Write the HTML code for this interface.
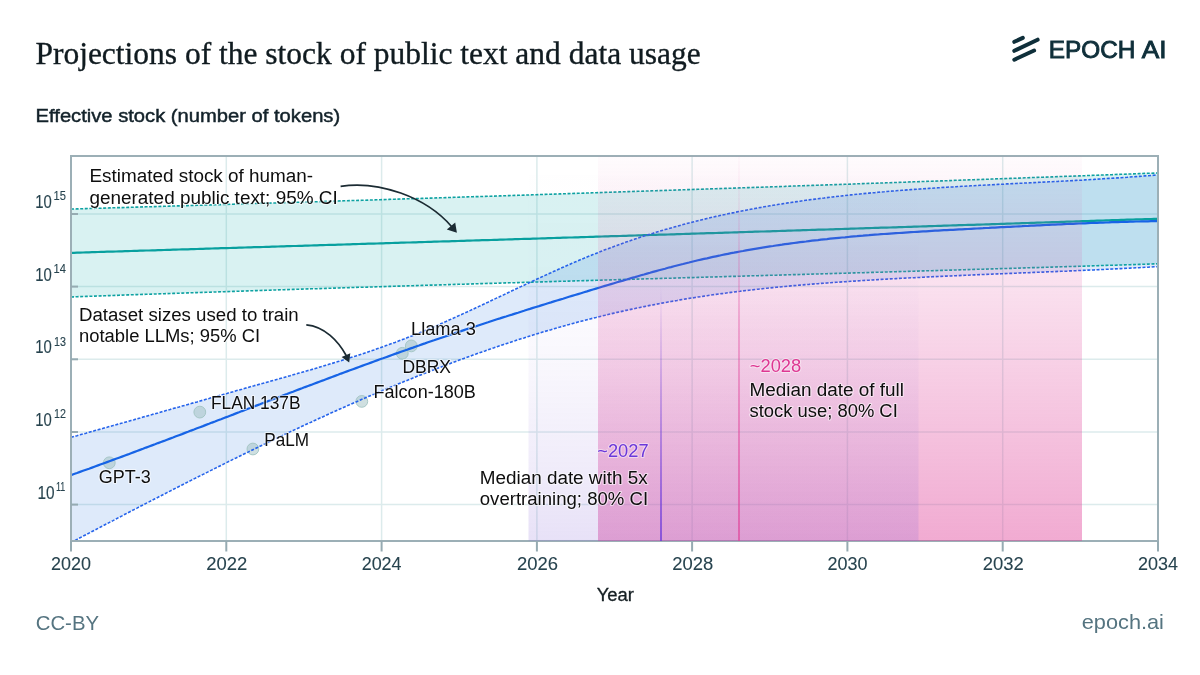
<!DOCTYPE html>
<html><head><meta charset="utf-8"><style>
html,body{margin:0;padding:0;background:#fff;}
body{width:1200px;height:675px;overflow:hidden;position:relative;font-family:"Liberation Sans",sans-serif;}
svg{position:absolute;left:0;top:0;will-change:transform;}
</style></head><body>
<svg width="1200" height="675" viewBox="0 0 1200 675">
<defs>
<linearGradient id="gPink" x1="0" y1="0" x2="0" y2="1">
<stop offset="0" stop-color="#e0449a" stop-opacity="0.02"/>
<stop offset="1" stop-color="#e0449a" stop-opacity="0.45"/>
</linearGradient>
<linearGradient id="gLav" x1="0" y1="0" x2="0" y2="1">
<stop offset="0" stop-color="#8a6ad8" stop-opacity="0"/>
<stop offset="0.3" stop-color="#8a6ad8" stop-opacity="0.012"/>
<stop offset="0.55" stop-color="#8a6ad8" stop-opacity="0.055"/>
<stop offset="0.8" stop-color="#8a6ad8" stop-opacity="0.125"/>
<stop offset="1" stop-color="#8a6ad8" stop-opacity="0.2"/>
</linearGradient>
<linearGradient id="gPinkLine" x1="0" y1="0" x2="0" y2="1">
<stop offset="0" stop-color="#e0449a" stop-opacity="0.03"/>
<stop offset="0.15" stop-color="#e0449a" stop-opacity="0.12"/>
<stop offset="0.43" stop-color="#e0449a" stop-opacity="0.48"/>
<stop offset="1" stop-color="#e0449a" stop-opacity="0.95"/>
</linearGradient>
<linearGradient id="gPurpLine" x1="0" y1="0" x2="0" y2="1">
<stop offset="0" stop-color="#6a38da" stop-opacity="0"/>
<stop offset="1" stop-color="#6a38da" stop-opacity="0.9"/>
</linearGradient>
<clipPath id="plot"><rect x="71" y="156" width="1087" height="385"/></clipPath>
</defs>

<g stroke="#0f2f3a" stroke-width="4" stroke-linecap="round" fill="none">
<line x1="1014.3" y1="41.8" x2="1022.8" y2="37.9"/>
<line x1="1014.3" y1="50.8" x2="1037.6" y2="39.7"/>
<line x1="1014.3" y1="59.7" x2="1034.1" y2="50.5"/>
</g>

<g stroke="#dcebec" stroke-width="1.5"><line x1="226.3" y1="156" x2="226.3" y2="541"/><line x1="381.6" y1="156" x2="381.6" y2="541"/><line x1="536.9" y1="156" x2="536.9" y2="541"/><line x1="692.1" y1="156" x2="692.1" y2="541"/><line x1="847.4" y1="156" x2="847.4" y2="541"/><line x1="1002.7" y1="156" x2="1002.7" y2="541"/><line x1="71" y1="504.6" x2="1158" y2="504.6"/><line x1="71" y1="432.0" x2="1158" y2="432.0"/><line x1="71" y1="359.3" x2="1158" y2="359.3"/><line x1="71" y1="286.6" x2="1158" y2="286.6"/><line x1="71" y1="214.0" x2="1158" y2="214.0"/></g>

<g clip-path="url(#plot)">
<path d="M71.0,209.0L74.0,209.0L77.0,208.9L80.0,208.8L83.0,208.7L86.0,208.6L89.0,208.5L92.0,208.4L95.0,208.3L98.0,208.3L101.0,208.2L104.0,208.1L107.0,208.0L110.0,207.9L113.0,207.8L116.0,207.7L119.0,207.6L122.0,207.6L125.0,207.5L128.0,207.4L131.0,207.3L134.0,207.2L137.0,207.1L140.0,207.0L143.0,206.9L146.0,206.8L149.0,206.8L152.0,206.7L155.0,206.6L158.0,206.5L161.0,206.4L164.0,206.3L167.0,206.2L170.0,206.1L173.0,206.0L176.0,205.9L179.0,205.9L182.0,205.8L185.0,205.7L188.0,205.6L191.0,205.5L194.0,205.4L197.0,205.3L200.0,205.2L203.0,205.1L206.0,205.0L209.0,205.0L212.0,204.9L215.0,204.8L218.0,204.7L221.0,204.6L224.0,204.5L227.0,204.4L230.0,204.3L233.0,204.2L236.0,204.1L239.0,204.1L242.0,204.0L245.0,203.9L248.0,203.8L251.0,203.7L254.0,203.6L257.0,203.5L260.0,203.4L263.0,203.3L266.0,203.2L269.0,203.1L272.0,203.0L275.0,203.0L278.0,202.9L281.0,202.8L284.0,202.7L287.0,202.6L290.0,202.5L293.0,202.4L296.0,202.3L299.0,202.2L302.0,202.1L305.0,202.0L308.0,201.9L311.0,201.8L314.0,201.8L317.0,201.7L320.0,201.6L323.0,201.5L326.0,201.4L329.0,201.3L332.0,201.2L335.0,201.1L338.0,201.0L341.0,200.9L344.0,200.8L347.0,200.7L350.0,200.6L353.0,200.5L356.0,200.5L359.0,200.4L362.0,200.3L365.0,200.2L368.0,200.1L371.0,200.0L374.0,199.9L377.0,199.8L380.0,199.7L383.0,199.6L386.0,199.5L389.0,199.4L392.0,199.3L395.0,199.2L398.0,199.1L401.0,199.0L404.0,198.9L407.0,198.8L410.0,198.8L413.0,198.7L416.0,198.6L419.0,198.5L422.0,198.4L425.0,198.3L428.0,198.2L431.0,198.1L434.0,198.0L437.0,197.9L440.0,197.8L443.0,197.7L446.0,197.6L449.0,197.5L452.0,197.4L455.0,197.3L458.0,197.2L461.0,197.1L464.0,197.0L467.0,196.9L470.0,196.8L473.0,196.7L476.0,196.6L479.0,196.6L482.0,196.5L485.0,196.4L488.0,196.3L491.0,196.2L494.0,196.1L497.0,196.0L500.0,195.9L503.0,195.8L506.0,195.7L509.0,195.6L512.0,195.5L515.0,195.4L518.0,195.3L521.0,195.2L524.0,195.1L527.0,195.0L530.0,194.9L533.0,194.8L536.0,194.7L539.0,194.6L542.0,194.5L545.0,194.4L548.0,194.3L551.0,194.2L554.0,194.1L557.0,194.0L560.0,193.9L563.0,193.8L566.0,193.7L569.0,193.6L572.0,193.5L575.0,193.4L578.0,193.3L581.0,193.2L584.0,193.1L587.0,193.0L590.0,192.9L593.0,192.8L596.0,192.7L599.0,192.6L602.0,192.5L605.0,192.4L608.0,192.3L611.0,192.2L614.0,192.1L617.0,192.0L620.0,191.9L623.0,191.8L626.0,191.7L629.0,191.6L632.0,191.5L635.0,191.4L638.0,191.3L641.0,191.2L644.0,191.1L647.0,191.0L650.0,190.9L653.0,190.8L656.0,190.7L659.0,190.6L662.0,190.5L665.0,190.4L668.0,190.3L671.0,190.2L674.0,190.1L677.0,190.0L680.0,189.9L683.0,189.8L686.0,189.7L689.0,189.6L692.0,189.5L695.0,189.4L698.0,189.3L701.0,189.2L704.0,189.1L707.0,189.0L710.0,188.9L713.0,188.8L716.0,188.7L719.0,188.6L722.0,188.5L725.0,188.4L728.0,188.3L731.0,188.2L734.0,188.1L737.0,188.0L740.0,187.9L743.0,187.8L746.0,187.7L749.0,187.6L752.0,187.5L755.0,187.4L758.0,187.3L761.0,187.2L764.0,187.1L767.0,187.0L770.0,186.9L773.0,186.8L776.0,186.7L779.0,186.6L782.0,186.5L785.0,186.4L788.0,186.2L791.0,186.1L794.0,186.0L797.0,185.9L800.0,185.8L803.0,185.7L806.0,185.6L809.0,185.5L812.0,185.4L815.0,185.3L818.0,185.2L821.0,185.1L824.0,185.0L827.0,184.9L830.0,184.8L833.0,184.7L836.0,184.6L839.0,184.5L842.0,184.4L845.0,184.3L848.0,184.2L851.0,184.1L854.0,184.0L857.0,183.8L860.0,183.7L863.0,183.6L866.0,183.5L869.0,183.4L872.0,183.3L875.0,183.2L878.0,183.1L881.0,183.0L884.0,182.9L887.0,182.8L890.0,182.7L893.0,182.6L896.0,182.5L899.0,182.4L902.0,182.3L905.0,182.2L908.0,182.0L911.0,181.9L914.0,181.8L917.0,181.7L920.0,181.6L923.0,181.5L926.0,181.4L929.0,181.3L932.0,181.2L935.0,181.1L938.0,181.0L941.0,180.9L944.0,180.8L947.0,180.7L950.0,180.6L953.0,180.4L956.0,180.3L959.0,180.2L962.0,180.1L965.0,180.0L968.0,179.9L971.0,179.8L974.0,179.7L977.0,179.6L980.0,179.5L983.0,179.4L986.0,179.3L989.0,179.2L992.0,179.0L995.0,178.9L998.0,178.8L1001.0,178.7L1004.0,178.6L1007.0,178.5L1010.0,178.4L1013.0,178.3L1016.0,178.2L1019.0,178.1L1022.0,178.0L1025.0,177.8L1028.0,177.7L1031.0,177.6L1034.0,177.5L1037.0,177.4L1040.0,177.3L1043.0,177.2L1046.0,177.1L1049.0,177.0L1052.0,176.9L1055.0,176.8L1058.0,176.6L1061.0,176.5L1064.0,176.4L1067.0,176.3L1070.0,176.2L1073.0,176.1L1076.0,176.0L1079.0,175.9L1082.0,175.8L1085.0,175.7L1088.0,175.5L1091.0,175.4L1094.0,175.3L1097.0,175.2L1100.0,175.1L1103.0,175.0L1106.0,174.9L1109.0,174.8L1112.0,174.7L1115.0,174.5L1118.0,174.4L1121.0,174.3L1124.0,174.2L1127.0,174.1L1130.0,174.0L1133.0,173.9L1136.0,173.8L1139.0,173.6L1142.0,173.5L1145.0,173.4L1148.0,173.3L1151.0,173.2L1154.0,173.1L1157.0,173.0L1158.0,172.9L1158.0,263.8L1157.0,263.8L1154.0,263.9L1151.0,264.0L1148.0,264.1L1145.0,264.2L1142.0,264.3L1139.0,264.4L1136.0,264.5L1133.0,264.6L1130.0,264.7L1127.0,264.8L1124.0,264.9L1121.0,265.0L1118.0,265.1L1115.0,265.2L1112.0,265.3L1109.0,265.3L1106.0,265.4L1103.0,265.5L1100.0,265.6L1097.0,265.7L1094.0,265.8L1091.0,265.9L1088.0,266.0L1085.0,266.1L1082.0,266.2L1079.0,266.3L1076.0,266.4L1073.0,266.5L1070.0,266.5L1067.0,266.6L1064.0,266.7L1061.0,266.8L1058.0,266.9L1055.0,267.0L1052.0,267.1L1049.0,267.2L1046.0,267.3L1043.0,267.4L1040.0,267.5L1037.0,267.6L1034.0,267.6L1031.0,267.7L1028.0,267.8L1025.0,267.9L1022.0,268.0L1019.0,268.1L1016.0,268.2L1013.0,268.3L1010.0,268.4L1007.0,268.5L1004.0,268.5L1001.0,268.6L998.0,268.7L995.0,268.8L992.0,268.9L989.0,269.0L986.0,269.1L983.0,269.2L980.0,269.3L977.0,269.3L974.0,269.4L971.0,269.5L968.0,269.6L965.0,269.7L962.0,269.8L959.0,269.9L956.0,270.0L953.0,270.1L950.0,270.1L947.0,270.2L944.0,270.3L941.0,270.4L938.0,270.5L935.0,270.6L932.0,270.7L929.0,270.8L926.0,270.8L923.0,270.9L920.0,271.0L917.0,271.1L914.0,271.2L911.0,271.3L908.0,271.4L905.0,271.5L902.0,271.5L899.0,271.6L896.0,271.7L893.0,271.8L890.0,271.9L887.0,272.0L884.0,272.1L881.0,272.2L878.0,272.2L875.0,272.3L872.0,272.4L869.0,272.5L866.0,272.6L863.0,272.7L860.0,272.8L857.0,272.8L854.0,272.9L851.0,273.0L848.0,273.1L845.0,273.2L842.0,273.3L839.0,273.4L836.0,273.4L833.0,273.5L830.0,273.6L827.0,273.7L824.0,273.8L821.0,273.9L818.0,274.0L815.0,274.0L812.0,274.1L809.0,274.2L806.0,274.3L803.0,274.4L800.0,274.5L797.0,274.6L794.0,274.6L791.0,274.7L788.0,274.8L785.0,274.9L782.0,275.0L779.0,275.1L776.0,275.2L773.0,275.2L770.0,275.3L767.0,275.4L764.0,275.5L761.0,275.6L758.0,275.7L755.0,275.8L752.0,275.8L749.0,275.9L746.0,276.0L743.0,276.1L740.0,276.2L737.0,276.3L734.0,276.4L731.0,276.4L728.0,276.5L725.0,276.6L722.0,276.7L719.0,276.8L716.0,276.9L713.0,277.0L710.0,277.0L707.0,277.1L704.0,277.2L701.0,277.3L698.0,277.4L695.0,277.5L692.0,277.6L689.0,277.6L686.0,277.7L683.0,277.8L680.0,277.9L677.0,278.0L674.0,278.1L671.0,278.2L668.0,278.2L665.0,278.3L662.0,278.4L659.0,278.5L656.0,278.6L653.0,278.7L650.0,278.8L647.0,278.8L644.0,278.9L641.0,279.0L638.0,279.1L635.0,279.2L632.0,279.3L629.0,279.4L626.0,279.4L623.0,279.5L620.0,279.6L617.0,279.7L614.0,279.8L611.0,279.9L608.0,280.0L605.0,280.0L602.0,280.1L599.0,280.2L596.0,280.3L593.0,280.4L590.0,280.5L587.0,280.6L584.0,280.6L581.0,280.7L578.0,280.8L575.0,280.9L572.0,281.0L569.0,281.1L566.0,281.2L563.0,281.3L560.0,281.3L557.0,281.4L554.0,281.5L551.0,281.6L548.0,281.7L545.0,281.8L542.0,281.9L539.0,282.0L536.0,282.0L533.0,282.1L530.0,282.2L527.0,282.3L524.0,282.4L521.0,282.5L518.0,282.6L515.0,282.7L512.0,282.7L509.0,282.8L506.0,282.9L503.0,283.0L500.0,283.1L497.0,283.2L494.0,283.3L491.0,283.4L488.0,283.4L485.0,283.5L482.0,283.6L479.0,283.7L476.0,283.8L473.0,283.9L470.0,284.0L467.0,284.1L464.0,284.2L461.0,284.2L458.0,284.3L455.0,284.4L452.0,284.5L449.0,284.6L446.0,284.7L443.0,284.8L440.0,284.9L437.0,285.0L434.0,285.1L431.0,285.1L428.0,285.2L425.0,285.3L422.0,285.4L419.0,285.5L416.0,285.6L413.0,285.7L410.0,285.8L407.0,285.9L404.0,286.0L401.0,286.1L398.0,286.1L395.0,286.2L392.0,286.3L389.0,286.4L386.0,286.5L383.0,286.6L380.0,286.7L377.0,286.8L374.0,286.9L371.0,287.0L368.0,287.1L365.0,287.2L362.0,287.3L359.0,287.3L356.0,287.4L353.0,287.5L350.0,287.6L347.0,287.7L344.0,287.8L341.0,287.9L338.0,288.0L335.0,288.1L332.0,288.2L329.0,288.3L326.0,288.4L323.0,288.5L320.0,288.6L317.0,288.7L314.0,288.8L311.0,288.8L308.0,288.9L305.0,289.0L302.0,289.1L299.0,289.2L296.0,289.3L293.0,289.4L290.0,289.5L287.0,289.6L284.0,289.7L281.0,289.8L278.0,289.9L275.0,290.0L272.0,290.1L269.0,290.2L266.0,290.3L263.0,290.4L260.0,290.5L257.0,290.6L254.0,290.7L251.0,290.8L248.0,290.9L245.0,291.0L242.0,291.1L239.0,291.2L236.0,291.3L233.0,291.4L230.0,291.5L227.0,291.6L224.0,291.7L221.0,291.8L218.0,291.9L215.0,292.0L212.0,292.1L209.0,292.2L206.0,292.3L203.0,292.4L200.0,292.5L197.0,292.6L194.0,292.7L191.0,292.8L188.0,292.9L185.0,293.0L182.0,293.1L179.0,293.2L176.0,293.3L173.0,293.4L170.0,293.5L167.0,293.6L164.0,293.7L161.0,293.8L158.0,293.9L155.0,294.0L152.0,294.1L149.0,294.2L146.0,294.3L143.0,294.4L140.0,294.5L137.0,294.6L134.0,294.7L131.0,294.8L128.0,294.9L125.0,295.0L122.0,295.1L119.0,295.2L116.0,295.4L113.0,295.5L110.0,295.6L107.0,295.7L104.0,295.8L101.0,295.9L98.0,296.0L95.0,296.1L92.0,296.2L89.0,296.3L86.0,296.4L83.0,296.5L80.0,296.6L77.0,296.7L74.0,296.9L71.0,297.0Z" fill="#00a5a5" fill-opacity="0.15"/>
<path d="M71.0,437.3L74.0,436.5L77.0,435.7L80.0,434.8L83.0,434.0L86.0,433.2L89.0,432.3L92.0,431.5L95.0,430.6L98.0,429.8L101.0,429.0L104.0,428.1L107.0,427.3L110.0,426.4L113.0,425.6L116.0,424.7L119.0,423.9L122.0,423.1L125.0,422.2L128.0,421.4L131.0,420.5L134.0,419.7L137.0,418.8L140.0,418.0L143.0,417.1L146.0,416.3L149.0,415.4L152.0,414.6L155.0,413.7L158.0,412.9L161.0,412.0L164.0,411.2L167.0,410.3L170.0,409.5L173.0,408.6L176.0,407.8L179.0,407.0L182.0,406.1L185.0,405.3L188.0,404.4L191.0,403.6L194.0,402.7L197.0,401.9L200.0,401.0L203.0,400.2L206.0,399.3L209.0,398.5L212.0,397.6L215.0,396.8L218.0,395.9L221.0,395.1L224.0,394.2L227.0,393.4L230.0,392.5L233.0,391.7L236.0,390.8L239.0,390.0L242.0,389.2L245.0,388.3L248.0,387.5L251.0,386.6L254.0,385.8L257.0,384.9L260.0,384.1L263.0,383.3L266.0,382.4L269.0,381.6L272.0,380.7L275.0,379.9L278.0,379.1L281.0,378.2L284.0,377.4L287.0,376.5L290.0,375.7L293.0,374.8L296.0,374.0L299.0,373.1L302.0,372.3L305.0,371.4L308.0,370.5L311.0,369.7L314.0,368.8L317.0,367.9L320.0,367.0L323.0,366.1L326.0,365.2L329.0,364.3L332.0,363.4L335.0,362.5L338.0,361.6L341.0,360.7L344.0,359.7L347.0,358.8L350.0,357.8L353.0,356.9L356.0,355.9L359.0,354.9L362.0,353.9L365.0,352.9L368.0,351.9L371.0,350.9L374.0,349.9L377.0,348.8L380.0,347.8L383.0,346.7L386.0,345.6L389.0,344.6L392.0,343.5L395.0,342.4L398.0,341.2L401.0,340.1L404.0,339.0L407.0,337.8L410.0,336.6L413.0,335.4L416.0,334.2L419.0,333.0L422.0,331.8L425.0,330.5L428.0,329.3L431.0,328.0L434.0,326.7L437.0,325.4L440.0,324.1L443.0,322.8L446.0,321.5L449.0,320.1L452.0,318.8L455.0,317.4L458.0,316.1L461.0,314.7L464.0,313.3L467.0,312.0L470.0,310.6L473.0,309.2L476.0,307.8L479.0,306.4L482.0,305.0L485.0,303.6L488.0,302.2L491.0,300.7L494.0,299.3L497.0,297.9L500.0,296.5L503.0,295.1L506.0,293.7L509.0,292.2L512.0,290.8L515.0,289.4L518.0,288.0L521.0,286.6L524.0,285.2L527.0,283.8L530.0,282.3L533.0,280.9L536.0,279.6L539.0,278.2L542.0,276.8L545.0,275.4L548.0,274.0L551.0,272.7L554.0,271.3L557.0,270.0L560.0,268.6L563.0,267.3L566.0,266.0L569.0,264.7L572.0,263.3L575.0,262.1L578.0,260.8L581.0,259.5L584.0,258.3L587.0,257.0L590.0,255.8L593.0,254.6L596.0,253.4L599.0,252.2L602.0,251.0L605.0,249.8L608.0,248.7L611.0,247.6L614.0,246.5L617.0,245.4L620.0,244.3L623.0,243.2L626.0,242.1L629.0,241.1L632.0,240.1L635.0,239.1L638.0,238.1L641.0,237.1L644.0,236.1L647.0,235.1L650.0,234.2L653.0,233.3L656.0,232.3L659.0,231.4L662.0,230.5L665.0,229.6L668.0,228.8L671.0,227.9L674.0,227.1L677.0,226.2L680.0,225.4L683.0,224.6L686.0,223.8L689.0,223.0L692.0,222.2L695.0,221.5L698.0,220.7L701.0,220.0L704.0,219.3L707.0,218.5L710.0,217.8L713.0,217.1L716.0,216.4L719.0,215.8L722.0,215.1L725.0,214.5L728.0,213.8L731.0,213.2L734.0,212.6L737.0,211.9L740.0,211.3L743.0,210.7L746.0,210.2L749.0,209.6L752.0,209.0L755.0,208.5L758.0,207.9L761.0,207.4L764.0,206.8L767.0,206.3L770.0,205.8L773.0,205.3L776.0,204.8L779.0,204.3L782.0,203.9L785.0,203.4L788.0,202.9L791.0,202.5L794.0,202.0L797.0,201.6L800.0,201.2L803.0,200.7L806.0,200.3L809.0,199.9L812.0,199.5L815.0,199.1L818.0,198.7L821.0,198.3L824.0,198.0L827.0,197.6L830.0,197.2L833.0,196.9L836.0,196.5L839.0,196.2L842.0,195.9L845.0,195.5L848.0,195.2L851.0,194.9L854.0,194.6L857.0,194.3L860.0,194.0L863.0,193.7L866.0,193.4L869.0,193.1L872.0,192.8L875.0,192.6L878.0,192.3L881.0,192.0L884.0,191.8L887.0,191.5L890.0,191.2L893.0,191.0L896.0,190.8L899.0,190.5L902.0,190.3L905.0,190.1L908.0,189.8L911.0,189.6L914.0,189.4L917.0,189.2L920.0,189.0L923.0,188.8L926.0,188.6L929.0,188.4L932.0,188.2L935.0,188.0L938.0,187.8L941.0,187.6L944.0,187.4L947.0,187.2L950.0,187.0L953.0,186.9L956.0,186.7L959.0,186.5L962.0,186.3L965.0,186.2L968.0,186.0L971.0,185.8L974.0,185.7L977.0,185.5L980.0,185.3L983.0,185.2L986.0,185.0L989.0,184.9L992.0,184.7L995.0,184.6L998.0,184.4L1001.0,184.2L1004.0,184.1L1007.0,183.9L1010.0,183.8L1013.0,183.6L1016.0,183.5L1019.0,183.3L1022.0,183.2L1025.0,183.0L1028.0,182.9L1031.0,182.7L1034.0,182.6L1037.0,182.4L1040.0,182.3L1043.0,182.1L1046.0,182.0L1049.0,181.8L1052.0,181.7L1055.0,181.5L1058.0,181.4L1061.0,181.2L1064.0,181.0L1067.0,180.9L1070.0,180.7L1073.0,180.6L1076.0,180.4L1079.0,180.2L1082.0,180.1L1085.0,179.9L1088.0,179.7L1091.0,179.5L1094.0,179.4L1097.0,179.2L1100.0,179.0L1103.0,178.8L1106.0,178.6L1109.0,178.4L1112.0,178.3L1115.0,178.1L1118.0,177.9L1121.0,177.7L1124.0,177.5L1127.0,177.3L1130.0,177.0L1133.0,176.8L1136.0,176.6L1139.0,176.4L1142.0,176.2L1145.0,175.9L1148.0,175.7L1151.0,175.5L1154.0,175.2L1157.0,175.0L1158.0,174.9L1158.0,266.6L1157.0,266.7L1154.0,266.8L1151.0,267.0L1148.0,267.2L1145.0,267.3L1142.0,267.5L1139.0,267.7L1136.0,267.8L1133.0,268.0L1130.0,268.1L1127.0,268.3L1124.0,268.4L1121.0,268.6L1118.0,268.7L1115.0,268.9L1112.0,269.0L1109.0,269.2L1106.0,269.3L1103.0,269.5L1100.0,269.6L1097.0,269.7L1094.0,269.9L1091.0,270.0L1088.0,270.1L1085.0,270.3L1082.0,270.4L1079.0,270.5L1076.0,270.7L1073.0,270.8L1070.0,270.9L1067.0,271.1L1064.0,271.2L1061.0,271.3L1058.0,271.4L1055.0,271.6L1052.0,271.7L1049.0,271.8L1046.0,271.9L1043.0,272.1L1040.0,272.2L1037.0,272.3L1034.0,272.4L1031.0,272.6L1028.0,272.7L1025.0,272.8L1022.0,272.9L1019.0,273.0L1016.0,273.2L1013.0,273.3L1010.0,273.4L1007.0,273.5L1004.0,273.7L1001.0,273.8L998.0,273.9L995.0,274.0L992.0,274.1L989.0,274.3L986.0,274.4L983.0,274.5L980.0,274.6L977.0,274.8L974.0,274.9L971.0,275.0L968.0,275.2L965.0,275.3L962.0,275.4L959.0,275.6L956.0,275.7L953.0,275.8L950.0,276.0L947.0,276.1L944.0,276.2L941.0,276.4L938.0,276.5L935.0,276.6L932.0,276.8L929.0,276.9L926.0,277.1L923.0,277.2L920.0,277.4L917.0,277.5L914.0,277.7L911.0,277.8L908.0,278.0L905.0,278.1L902.0,278.3L899.0,278.4L896.0,278.6L893.0,278.8L890.0,278.9L887.0,279.1L884.0,279.3L881.0,279.4L878.0,279.6L875.0,279.8L872.0,280.0L869.0,280.2L866.0,280.3L863.0,280.5L860.0,280.7L857.0,280.9L854.0,281.1L851.0,281.3L848.0,281.5L845.0,281.7L842.0,281.9L839.0,282.1L836.0,282.3L833.0,282.5L830.0,282.8L827.0,283.0L824.0,283.2L821.0,283.4L818.0,283.7L815.0,283.9L812.0,284.1L809.0,284.4L806.0,284.6L803.0,284.9L800.0,285.1L797.0,285.4L794.0,285.6L791.0,285.9L788.0,286.2L785.0,286.5L782.0,286.7L779.0,287.0L776.0,287.3L773.0,287.6L770.0,287.9L767.0,288.2L764.0,288.5L761.0,288.9L758.0,289.2L755.0,289.5L752.0,289.9L749.0,290.2L746.0,290.5L743.0,290.9L740.0,291.3L737.0,291.6L734.0,292.0L731.0,292.4L728.0,292.8L725.0,293.2L722.0,293.6L719.0,294.0L716.0,294.4L713.0,294.8L710.0,295.2L707.0,295.7L704.0,296.1L701.0,296.6L698.0,297.0L695.0,297.5L692.0,298.0L689.0,298.4L686.0,298.9L683.0,299.4L680.0,299.9L677.0,300.5L674.0,301.0L671.0,301.5L668.0,302.0L665.0,302.6L662.0,303.1L659.0,303.7L656.0,304.3L653.0,304.9L650.0,305.4L647.0,306.0L644.0,306.6L641.0,307.2L638.0,307.9L635.0,308.5L632.0,309.1L629.0,309.8L626.0,310.4L623.0,311.1L620.0,311.8L617.0,312.4L614.0,313.1L611.0,313.8L608.0,314.5L605.0,315.3L602.0,316.0L599.0,316.7L596.0,317.5L593.0,318.2L590.0,319.0L587.0,319.7L584.0,320.5L581.0,321.3L578.0,322.1L575.0,322.9L572.0,323.7L569.0,324.6L566.0,325.4L563.0,326.2L560.0,327.1L557.0,327.9L554.0,328.8L551.0,329.7L548.0,330.5L545.0,331.4L542.0,332.3L539.0,333.2L536.0,334.2L533.0,335.1L530.0,336.0L527.0,336.9L524.0,337.9L521.0,338.8L518.0,339.8L515.0,340.8L512.0,341.7L509.0,342.7L506.0,343.7L503.0,344.7L500.0,345.7L497.0,346.7L494.0,347.8L491.0,348.8L488.0,349.8L485.0,350.9L482.0,351.9L479.0,353.0L476.0,354.1L473.0,355.1L470.0,356.2L467.0,357.3L464.0,358.4L461.0,359.5L458.0,360.6L455.0,361.7L452.0,362.8L449.0,364.0L446.0,365.1L443.0,366.2L440.0,367.4L437.0,368.5L434.0,369.7L431.0,370.9L428.0,372.0L425.0,373.2L422.0,374.4L419.0,375.6L416.0,376.8L413.0,378.0L410.0,379.2L407.0,380.4L404.0,381.6L401.0,382.9L398.0,384.1L395.0,385.3L392.0,386.6L389.0,387.8L386.0,389.1L383.0,390.3L380.0,391.6L377.0,392.9L374.0,394.2L371.0,395.4L368.0,396.7L365.0,398.0L362.0,399.3L359.0,400.6L356.0,401.9L353.0,403.2L350.0,404.6L347.0,405.9L344.0,407.2L341.0,408.6L338.0,409.9L335.0,411.2L332.0,412.6L329.0,413.9L326.0,415.3L323.0,416.7L320.0,418.0L317.0,419.4L314.0,420.8L311.0,422.2L308.0,423.5L305.0,424.9L302.0,426.3L299.0,427.7L296.0,429.1L293.0,430.5L290.0,431.9L287.0,433.3L284.0,434.8L281.0,436.2L278.0,437.6L275.0,439.0L272.0,440.5L269.0,441.9L266.0,443.4L263.0,444.8L260.0,446.2L257.0,447.7L254.0,449.2L251.0,450.6L248.0,452.1L245.0,453.5L242.0,455.0L239.0,456.5L236.0,458.0L233.0,459.4L230.0,460.9L227.0,462.4L224.0,463.9L221.0,465.4L218.0,466.9L215.0,468.4L212.0,469.9L209.0,471.4L206.0,472.9L203.0,474.4L200.0,475.9L197.0,477.4L194.0,478.9L191.0,480.4L188.0,481.9L185.0,483.5L182.0,485.0L179.0,486.5L176.0,488.0L173.0,489.6L170.0,491.1L167.0,492.6L164.0,494.2L161.0,495.7L158.0,497.3L155.0,498.8L152.0,500.3L149.0,501.9L146.0,503.4L143.0,505.0L140.0,506.5L137.0,508.1L134.0,509.6L131.0,511.2L128.0,512.7L125.0,514.3L122.0,515.9L119.0,517.4L116.0,519.0L113.0,520.6L110.0,522.1L107.0,523.7L104.0,525.2L101.0,526.8L98.0,528.4L95.0,530.0L92.0,531.5L89.0,533.1L86.0,534.7L83.0,536.2L80.0,537.8L77.0,539.4L74.0,541.0L71.0,542.5Z" fill="#1f6fe0" fill-opacity="0.15"/>
</g>

<g fill="#9fc0c2" fill-opacity="0.5" stroke="#9fc2c0" stroke-opacity="0.85" stroke-width="1"><circle cx="109.3" cy="462.8" r="5.9"/><circle cx="199.8" cy="412.1" r="5.9"/><circle cx="252.9" cy="449.0" r="5.9"/><circle cx="361.8" cy="401.4" r="5.9"/><circle cx="402.3" cy="353.3" r="5.9"/><circle cx="411.3" cy="345.9" r="5.9"/></g>

<g clip-path="url(#plot)" fill="none">
<path d="M71.0,209.0L74.0,209.0L77.0,208.9L80.0,208.8L83.0,208.7L86.0,208.6L89.0,208.5L92.0,208.4L95.0,208.3L98.0,208.3L101.0,208.2L104.0,208.1L107.0,208.0L110.0,207.9L113.0,207.8L116.0,207.7L119.0,207.6L122.0,207.6L125.0,207.5L128.0,207.4L131.0,207.3L134.0,207.2L137.0,207.1L140.0,207.0L143.0,206.9L146.0,206.8L149.0,206.8L152.0,206.7L155.0,206.6L158.0,206.5L161.0,206.4L164.0,206.3L167.0,206.2L170.0,206.1L173.0,206.0L176.0,205.9L179.0,205.9L182.0,205.8L185.0,205.7L188.0,205.6L191.0,205.5L194.0,205.4L197.0,205.3L200.0,205.2L203.0,205.1L206.0,205.0L209.0,205.0L212.0,204.9L215.0,204.8L218.0,204.7L221.0,204.6L224.0,204.5L227.0,204.4L230.0,204.3L233.0,204.2L236.0,204.1L239.0,204.1L242.0,204.0L245.0,203.9L248.0,203.8L251.0,203.7L254.0,203.6L257.0,203.5L260.0,203.4L263.0,203.3L266.0,203.2L269.0,203.1L272.0,203.0L275.0,203.0L278.0,202.9L281.0,202.8L284.0,202.7L287.0,202.6L290.0,202.5L293.0,202.4L296.0,202.3L299.0,202.2L302.0,202.1L305.0,202.0L308.0,201.9L311.0,201.8L314.0,201.8L317.0,201.7L320.0,201.6L323.0,201.5L326.0,201.4L329.0,201.3L332.0,201.2L335.0,201.1L338.0,201.0L341.0,200.9L344.0,200.8L347.0,200.7L350.0,200.6L353.0,200.5L356.0,200.5L359.0,200.4L362.0,200.3L365.0,200.2L368.0,200.1L371.0,200.0L374.0,199.9L377.0,199.8L380.0,199.7L383.0,199.6L386.0,199.5L389.0,199.4L392.0,199.3L395.0,199.2L398.0,199.1L401.0,199.0L404.0,198.9L407.0,198.8L410.0,198.8L413.0,198.7L416.0,198.6L419.0,198.5L422.0,198.4L425.0,198.3L428.0,198.2L431.0,198.1L434.0,198.0L437.0,197.9L440.0,197.8L443.0,197.7L446.0,197.6L449.0,197.5L452.0,197.4L455.0,197.3L458.0,197.2L461.0,197.1L464.0,197.0L467.0,196.9L470.0,196.8L473.0,196.7L476.0,196.6L479.0,196.6L482.0,196.5L485.0,196.4L488.0,196.3L491.0,196.2L494.0,196.1L497.0,196.0L500.0,195.9L503.0,195.8L506.0,195.7L509.0,195.6L512.0,195.5L515.0,195.4L518.0,195.3L521.0,195.2L524.0,195.1L527.0,195.0L530.0,194.9L533.0,194.8L536.0,194.7L539.0,194.6L542.0,194.5L545.0,194.4L548.0,194.3L551.0,194.2L554.0,194.1L557.0,194.0L560.0,193.9L563.0,193.8L566.0,193.7L569.0,193.6L572.0,193.5L575.0,193.4L578.0,193.3L581.0,193.2L584.0,193.1L587.0,193.0L590.0,192.9L593.0,192.8L596.0,192.7L599.0,192.6L602.0,192.5L605.0,192.4L608.0,192.3L611.0,192.2L614.0,192.1L617.0,192.0L620.0,191.9L623.0,191.8L626.0,191.7L629.0,191.6L632.0,191.5L635.0,191.4L638.0,191.3L641.0,191.2L644.0,191.1L647.0,191.0L650.0,190.9L653.0,190.8L656.0,190.7L659.0,190.6L662.0,190.5L665.0,190.4L668.0,190.3L671.0,190.2L674.0,190.1L677.0,190.0L680.0,189.9L683.0,189.8L686.0,189.7L689.0,189.6L692.0,189.5L695.0,189.4L698.0,189.3L701.0,189.2L704.0,189.1L707.0,189.0L710.0,188.9L713.0,188.8L716.0,188.7L719.0,188.6L722.0,188.5L725.0,188.4L728.0,188.3L731.0,188.2L734.0,188.1L737.0,188.0L740.0,187.9L743.0,187.8L746.0,187.7L749.0,187.6L752.0,187.5L755.0,187.4L758.0,187.3L761.0,187.2L764.0,187.1L767.0,187.0L770.0,186.9L773.0,186.8L776.0,186.7L779.0,186.6L782.0,186.5L785.0,186.4L788.0,186.2L791.0,186.1L794.0,186.0L797.0,185.9L800.0,185.8L803.0,185.7L806.0,185.6L809.0,185.5L812.0,185.4L815.0,185.3L818.0,185.2L821.0,185.1L824.0,185.0L827.0,184.9L830.0,184.8L833.0,184.7L836.0,184.6L839.0,184.5L842.0,184.4L845.0,184.3L848.0,184.2L851.0,184.1L854.0,184.0L857.0,183.8L860.0,183.7L863.0,183.6L866.0,183.5L869.0,183.4L872.0,183.3L875.0,183.2L878.0,183.1L881.0,183.0L884.0,182.9L887.0,182.8L890.0,182.7L893.0,182.6L896.0,182.5L899.0,182.4L902.0,182.3L905.0,182.2L908.0,182.0L911.0,181.9L914.0,181.8L917.0,181.7L920.0,181.6L923.0,181.5L926.0,181.4L929.0,181.3L932.0,181.2L935.0,181.1L938.0,181.0L941.0,180.9L944.0,180.8L947.0,180.7L950.0,180.6L953.0,180.4L956.0,180.3L959.0,180.2L962.0,180.1L965.0,180.0L968.0,179.9L971.0,179.8L974.0,179.7L977.0,179.6L980.0,179.5L983.0,179.4L986.0,179.3L989.0,179.2L992.0,179.0L995.0,178.9L998.0,178.8L1001.0,178.7L1004.0,178.6L1007.0,178.5L1010.0,178.4L1013.0,178.3L1016.0,178.2L1019.0,178.1L1022.0,178.0L1025.0,177.8L1028.0,177.7L1031.0,177.6L1034.0,177.5L1037.0,177.4L1040.0,177.3L1043.0,177.2L1046.0,177.1L1049.0,177.0L1052.0,176.9L1055.0,176.8L1058.0,176.6L1061.0,176.5L1064.0,176.4L1067.0,176.3L1070.0,176.2L1073.0,176.1L1076.0,176.0L1079.0,175.9L1082.0,175.8L1085.0,175.7L1088.0,175.5L1091.0,175.4L1094.0,175.3L1097.0,175.2L1100.0,175.1L1103.0,175.0L1106.0,174.9L1109.0,174.8L1112.0,174.7L1115.0,174.5L1118.0,174.4L1121.0,174.3L1124.0,174.2L1127.0,174.1L1130.0,174.0L1133.0,173.9L1136.0,173.8L1139.0,173.6L1142.0,173.5L1145.0,173.4L1148.0,173.3L1151.0,173.2L1154.0,173.1L1157.0,173.0L1158.0,172.9" stroke="#0ea2a2" stroke-width="1.6" stroke-dasharray="3 1.6"/>
<path d="M71.0,297.0L74.0,296.9L77.0,296.7L80.0,296.6L83.0,296.5L86.0,296.4L89.0,296.3L92.0,296.2L95.0,296.1L98.0,296.0L101.0,295.9L104.0,295.8L107.0,295.7L110.0,295.6L113.0,295.5L116.0,295.4L119.0,295.2L122.0,295.1L125.0,295.0L128.0,294.9L131.0,294.8L134.0,294.7L137.0,294.6L140.0,294.5L143.0,294.4L146.0,294.3L149.0,294.2L152.0,294.1L155.0,294.0L158.0,293.9L161.0,293.8L164.0,293.7L167.0,293.6L170.0,293.5L173.0,293.4L176.0,293.3L179.0,293.2L182.0,293.1L185.0,293.0L188.0,292.9L191.0,292.8L194.0,292.7L197.0,292.6L200.0,292.5L203.0,292.4L206.0,292.3L209.0,292.2L212.0,292.1L215.0,292.0L218.0,291.9L221.0,291.8L224.0,291.7L227.0,291.6L230.0,291.5L233.0,291.4L236.0,291.3L239.0,291.2L242.0,291.1L245.0,291.0L248.0,290.9L251.0,290.8L254.0,290.7L257.0,290.6L260.0,290.5L263.0,290.4L266.0,290.3L269.0,290.2L272.0,290.1L275.0,290.0L278.0,289.9L281.0,289.8L284.0,289.7L287.0,289.6L290.0,289.5L293.0,289.4L296.0,289.3L299.0,289.2L302.0,289.1L305.0,289.0L308.0,288.9L311.0,288.8L314.0,288.8L317.0,288.7L320.0,288.6L323.0,288.5L326.0,288.4L329.0,288.3L332.0,288.2L335.0,288.1L338.0,288.0L341.0,287.9L344.0,287.8L347.0,287.7L350.0,287.6L353.0,287.5L356.0,287.4L359.0,287.3L362.0,287.3L365.0,287.2L368.0,287.1L371.0,287.0L374.0,286.9L377.0,286.8L380.0,286.7L383.0,286.6L386.0,286.5L389.0,286.4L392.0,286.3L395.0,286.2L398.0,286.1L401.0,286.1L404.0,286.0L407.0,285.9L410.0,285.8L413.0,285.7L416.0,285.6L419.0,285.5L422.0,285.4L425.0,285.3L428.0,285.2L431.0,285.1L434.0,285.1L437.0,285.0L440.0,284.9L443.0,284.8L446.0,284.7L449.0,284.6L452.0,284.5L455.0,284.4L458.0,284.3L461.0,284.2L464.0,284.2L467.0,284.1L470.0,284.0L473.0,283.9L476.0,283.8L479.0,283.7L482.0,283.6L485.0,283.5L488.0,283.4L491.0,283.4L494.0,283.3L497.0,283.2L500.0,283.1L503.0,283.0L506.0,282.9L509.0,282.8L512.0,282.7L515.0,282.7L518.0,282.6L521.0,282.5L524.0,282.4L527.0,282.3L530.0,282.2L533.0,282.1L536.0,282.0L539.0,282.0L542.0,281.9L545.0,281.8L548.0,281.7L551.0,281.6L554.0,281.5L557.0,281.4L560.0,281.3L563.0,281.3L566.0,281.2L569.0,281.1L572.0,281.0L575.0,280.9L578.0,280.8L581.0,280.7L584.0,280.6L587.0,280.6L590.0,280.5L593.0,280.4L596.0,280.3L599.0,280.2L602.0,280.1L605.0,280.0L608.0,280.0L611.0,279.9L614.0,279.8L617.0,279.7L620.0,279.6L623.0,279.5L626.0,279.4L629.0,279.4L632.0,279.3L635.0,279.2L638.0,279.1L641.0,279.0L644.0,278.9L647.0,278.8L650.0,278.8L653.0,278.7L656.0,278.6L659.0,278.5L662.0,278.4L665.0,278.3L668.0,278.2L671.0,278.2L674.0,278.1L677.0,278.0L680.0,277.9L683.0,277.8L686.0,277.7L689.0,277.6L692.0,277.6L695.0,277.5L698.0,277.4L701.0,277.3L704.0,277.2L707.0,277.1L710.0,277.0L713.0,277.0L716.0,276.9L719.0,276.8L722.0,276.7L725.0,276.6L728.0,276.5L731.0,276.4L734.0,276.4L737.0,276.3L740.0,276.2L743.0,276.1L746.0,276.0L749.0,275.9L752.0,275.8L755.0,275.8L758.0,275.7L761.0,275.6L764.0,275.5L767.0,275.4L770.0,275.3L773.0,275.2L776.0,275.2L779.0,275.1L782.0,275.0L785.0,274.9L788.0,274.8L791.0,274.7L794.0,274.6L797.0,274.6L800.0,274.5L803.0,274.4L806.0,274.3L809.0,274.2L812.0,274.1L815.0,274.0L818.0,274.0L821.0,273.9L824.0,273.8L827.0,273.7L830.0,273.6L833.0,273.5L836.0,273.4L839.0,273.4L842.0,273.3L845.0,273.2L848.0,273.1L851.0,273.0L854.0,272.9L857.0,272.8L860.0,272.8L863.0,272.7L866.0,272.6L869.0,272.5L872.0,272.4L875.0,272.3L878.0,272.2L881.0,272.2L884.0,272.1L887.0,272.0L890.0,271.9L893.0,271.8L896.0,271.7L899.0,271.6L902.0,271.5L905.0,271.5L908.0,271.4L911.0,271.3L914.0,271.2L917.0,271.1L920.0,271.0L923.0,270.9L926.0,270.8L929.0,270.8L932.0,270.7L935.0,270.6L938.0,270.5L941.0,270.4L944.0,270.3L947.0,270.2L950.0,270.1L953.0,270.1L956.0,270.0L959.0,269.9L962.0,269.8L965.0,269.7L968.0,269.6L971.0,269.5L974.0,269.4L977.0,269.3L980.0,269.3L983.0,269.2L986.0,269.1L989.0,269.0L992.0,268.9L995.0,268.8L998.0,268.7L1001.0,268.6L1004.0,268.5L1007.0,268.5L1010.0,268.4L1013.0,268.3L1016.0,268.2L1019.0,268.1L1022.0,268.0L1025.0,267.9L1028.0,267.8L1031.0,267.7L1034.0,267.6L1037.0,267.6L1040.0,267.5L1043.0,267.4L1046.0,267.3L1049.0,267.2L1052.0,267.1L1055.0,267.0L1058.0,266.9L1061.0,266.8L1064.0,266.7L1067.0,266.6L1070.0,266.5L1073.0,266.5L1076.0,266.4L1079.0,266.3L1082.0,266.2L1085.0,266.1L1088.0,266.0L1091.0,265.9L1094.0,265.8L1097.0,265.7L1100.0,265.6L1103.0,265.5L1106.0,265.4L1109.0,265.3L1112.0,265.3L1115.0,265.2L1118.0,265.1L1121.0,265.0L1124.0,264.9L1127.0,264.8L1130.0,264.7L1133.0,264.6L1136.0,264.5L1139.0,264.4L1142.0,264.3L1145.0,264.2L1148.0,264.1L1151.0,264.0L1154.0,263.9L1157.0,263.8L1158.0,263.8" stroke="#0ea2a2" stroke-width="1.6" stroke-dasharray="3 1.6"/>
<path d="M71.0,252.8L74.0,252.8L77.0,252.7L80.0,252.6L83.0,252.5L86.0,252.4L89.0,252.3L92.0,252.2L95.0,252.1L98.0,252.0L101.0,251.9L104.0,251.8L107.0,251.7L110.0,251.6L113.0,251.6L116.0,251.5L119.0,251.4L122.0,251.3L125.0,251.2L128.0,251.1L131.0,251.0L134.0,250.9L137.0,250.8L140.0,250.7L143.0,250.6L146.0,250.5L149.0,250.5L152.0,250.4L155.0,250.3L158.0,250.2L161.0,250.1L164.0,250.0L167.0,249.9L170.0,249.8L173.0,249.7L176.0,249.6L179.0,249.5L182.0,249.4L185.0,249.3L188.0,249.3L191.0,249.2L194.0,249.1L197.0,249.0L200.0,248.9L203.0,248.8L206.0,248.7L209.0,248.6L212.0,248.5L215.0,248.4L218.0,248.3L221.0,248.2L224.0,248.2L227.0,248.1L230.0,248.0L233.0,247.9L236.0,247.8L239.0,247.7L242.0,247.6L245.0,247.5L248.0,247.4L251.0,247.3L254.0,247.2L257.0,247.1L260.0,247.1L263.0,247.0L266.0,246.9L269.0,246.8L272.0,246.7L275.0,246.6L278.0,246.5L281.0,246.4L284.0,246.3L287.0,246.2L290.0,246.1L293.0,246.0L296.0,246.0L299.0,245.9L302.0,245.8L305.0,245.7L308.0,245.6L311.0,245.5L314.0,245.4L317.0,245.3L320.0,245.2L323.0,245.1L326.0,245.0L329.0,244.9L332.0,244.8L335.0,244.8L338.0,244.7L341.0,244.6L344.0,244.5L347.0,244.4L350.0,244.3L353.0,244.2L356.0,244.1L359.0,244.0L362.0,243.9L365.0,243.8L368.0,243.7L371.0,243.7L374.0,243.6L377.0,243.5L380.0,243.4L383.0,243.3L386.0,243.2L389.0,243.1L392.0,243.0L395.0,242.9L398.0,242.8L401.0,242.7L404.0,242.6L407.0,242.5L410.0,242.5L413.0,242.4L416.0,242.3L419.0,242.2L422.0,242.1L425.0,242.0L428.0,241.9L431.0,241.8L434.0,241.7L437.0,241.6L440.0,241.5L443.0,241.4L446.0,241.3L449.0,241.3L452.0,241.2L455.0,241.1L458.0,241.0L461.0,240.9L464.0,240.8L467.0,240.7L470.0,240.6L473.0,240.5L476.0,240.4L479.0,240.3L482.0,240.2L485.0,240.1L488.0,240.1L491.0,240.0L494.0,239.9L497.0,239.8L500.0,239.7L503.0,239.6L506.0,239.5L509.0,239.4L512.0,239.3L515.0,239.2L518.0,239.1L521.0,239.0L524.0,238.9L527.0,238.8L530.0,238.8L533.0,238.7L536.0,238.6L539.0,238.5L542.0,238.4L545.0,238.3L548.0,238.2L551.0,238.1L554.0,238.0L557.0,237.9L560.0,237.8L563.0,237.7L566.0,237.6L569.0,237.5L572.0,237.5L575.0,237.4L578.0,237.3L581.0,237.2L584.0,237.1L587.0,237.0L590.0,236.9L593.0,236.8L596.0,236.7L599.0,236.6L602.0,236.5L605.0,236.4L608.0,236.3L611.0,236.2L614.0,236.2L617.0,236.1L620.0,236.0L623.0,235.9L626.0,235.8L629.0,235.7L632.0,235.6L635.0,235.5L638.0,235.4L641.0,235.3L644.0,235.2L647.0,235.1L650.0,235.0L653.0,234.9L656.0,234.8L659.0,234.7L662.0,234.7L665.0,234.6L668.0,234.5L671.0,234.4L674.0,234.3L677.0,234.2L680.0,234.1L683.0,234.0L686.0,233.9L689.0,233.8L692.0,233.7L695.0,233.6L698.0,233.5L701.0,233.4L704.0,233.3L707.0,233.2L710.0,233.2L713.0,233.1L716.0,233.0L719.0,232.9L722.0,232.8L725.0,232.7L728.0,232.6L731.0,232.5L734.0,232.4L737.0,232.3L740.0,232.2L743.0,232.1L746.0,232.0L749.0,231.9L752.0,231.8L755.0,231.7L758.0,231.6L761.0,231.5L764.0,231.5L767.0,231.4L770.0,231.3L773.0,231.2L776.0,231.1L779.0,231.0L782.0,230.9L785.0,230.8L788.0,230.7L791.0,230.6L794.0,230.5L797.0,230.4L800.0,230.3L803.0,230.2L806.0,230.1L809.0,230.0L812.0,229.9L815.0,229.8L818.0,229.7L821.0,229.7L824.0,229.6L827.0,229.5L830.0,229.4L833.0,229.3L836.0,229.2L839.0,229.1L842.0,229.0L845.0,228.9L848.0,228.8L851.0,228.7L854.0,228.6L857.0,228.5L860.0,228.4L863.0,228.3L866.0,228.2L869.0,228.1L872.0,228.0L875.0,227.9L878.0,227.8L881.0,227.7L884.0,227.6L887.0,227.6L890.0,227.5L893.0,227.4L896.0,227.3L899.0,227.2L902.0,227.1L905.0,227.0L908.0,226.9L911.0,226.8L914.0,226.7L917.0,226.6L920.0,226.5L923.0,226.4L926.0,226.3L929.0,226.2L932.0,226.1L935.0,226.0L938.0,225.9L941.0,225.8L944.0,225.7L947.0,225.6L950.0,225.5L953.0,225.4L956.0,225.3L959.0,225.2L962.0,225.1L965.0,225.0L968.0,224.9L971.0,224.9L974.0,224.8L977.0,224.7L980.0,224.6L983.0,224.5L986.0,224.4L989.0,224.3L992.0,224.2L995.0,224.1L998.0,224.0L1001.0,223.9L1004.0,223.8L1007.0,223.7L1010.0,223.6L1013.0,223.5L1016.0,223.4L1019.0,223.3L1022.0,223.2L1025.0,223.1L1028.0,223.0L1031.0,222.9L1034.0,222.8L1037.0,222.7L1040.0,222.6L1043.0,222.5L1046.0,222.4L1049.0,222.3L1052.0,222.2L1055.0,222.1L1058.0,222.0L1061.0,221.9L1064.0,221.8L1067.0,221.7L1070.0,221.6L1073.0,221.5L1076.0,221.4L1079.0,221.3L1082.0,221.2L1085.0,221.1L1088.0,221.0L1091.0,220.9L1094.0,220.8L1097.0,220.7L1100.0,220.6L1103.0,220.5L1106.0,220.4L1109.0,220.3L1112.0,220.2L1115.0,220.1L1118.0,220.0L1121.0,219.9L1124.0,219.8L1127.0,219.7L1130.0,219.6L1133.0,219.5L1136.0,219.4L1139.0,219.3L1142.0,219.3L1145.0,219.2L1148.0,219.1L1151.0,219.0L1154.0,218.9L1157.0,218.8L1158.0,218.7" stroke="#08a09f" stroke-width="2.2"/>
<path d="M71.0,437.3L74.0,436.5L77.0,435.7L80.0,434.8L83.0,434.0L86.0,433.2L89.0,432.3L92.0,431.5L95.0,430.6L98.0,429.8L101.0,429.0L104.0,428.1L107.0,427.3L110.0,426.4L113.0,425.6L116.0,424.7L119.0,423.9L122.0,423.1L125.0,422.2L128.0,421.4L131.0,420.5L134.0,419.7L137.0,418.8L140.0,418.0L143.0,417.1L146.0,416.3L149.0,415.4L152.0,414.6L155.0,413.7L158.0,412.9L161.0,412.0L164.0,411.2L167.0,410.3L170.0,409.5L173.0,408.6L176.0,407.8L179.0,407.0L182.0,406.1L185.0,405.3L188.0,404.4L191.0,403.6L194.0,402.7L197.0,401.9L200.0,401.0L203.0,400.2L206.0,399.3L209.0,398.5L212.0,397.6L215.0,396.8L218.0,395.9L221.0,395.1L224.0,394.2L227.0,393.4L230.0,392.5L233.0,391.7L236.0,390.8L239.0,390.0L242.0,389.2L245.0,388.3L248.0,387.5L251.0,386.6L254.0,385.8L257.0,384.9L260.0,384.1L263.0,383.3L266.0,382.4L269.0,381.6L272.0,380.7L275.0,379.9L278.0,379.1L281.0,378.2L284.0,377.4L287.0,376.5L290.0,375.7L293.0,374.8L296.0,374.0L299.0,373.1L302.0,372.3L305.0,371.4L308.0,370.5L311.0,369.7L314.0,368.8L317.0,367.9L320.0,367.0L323.0,366.1L326.0,365.2L329.0,364.3L332.0,363.4L335.0,362.5L338.0,361.6L341.0,360.7L344.0,359.7L347.0,358.8L350.0,357.8L353.0,356.9L356.0,355.9L359.0,354.9L362.0,353.9L365.0,352.9L368.0,351.9L371.0,350.9L374.0,349.9L377.0,348.8L380.0,347.8L383.0,346.7L386.0,345.6L389.0,344.6L392.0,343.5L395.0,342.4L398.0,341.2L401.0,340.1L404.0,339.0L407.0,337.8L410.0,336.6L413.0,335.4L416.0,334.2L419.0,333.0L422.0,331.8L425.0,330.5L428.0,329.3L431.0,328.0L434.0,326.7L437.0,325.4L440.0,324.1L443.0,322.8L446.0,321.5L449.0,320.1L452.0,318.8L455.0,317.4L458.0,316.1L461.0,314.7L464.0,313.3L467.0,312.0L470.0,310.6L473.0,309.2L476.0,307.8L479.0,306.4L482.0,305.0L485.0,303.6L488.0,302.2L491.0,300.7L494.0,299.3L497.0,297.9L500.0,296.5L503.0,295.1L506.0,293.7L509.0,292.2L512.0,290.8L515.0,289.4L518.0,288.0L521.0,286.6L524.0,285.2L527.0,283.8L530.0,282.3L533.0,280.9L536.0,279.6L539.0,278.2L542.0,276.8L545.0,275.4L548.0,274.0L551.0,272.7L554.0,271.3L557.0,270.0L560.0,268.6L563.0,267.3L566.0,266.0L569.0,264.7L572.0,263.3L575.0,262.1L578.0,260.8L581.0,259.5L584.0,258.3L587.0,257.0L590.0,255.8L593.0,254.6L596.0,253.4L599.0,252.2L602.0,251.0L605.0,249.8L608.0,248.7L611.0,247.6L614.0,246.5L617.0,245.4L620.0,244.3L623.0,243.2L626.0,242.1L629.0,241.1L632.0,240.1L635.0,239.1L638.0,238.1L641.0,237.1L644.0,236.1L647.0,235.1L650.0,234.2L653.0,233.3L656.0,232.3L659.0,231.4L662.0,230.5L665.0,229.6L668.0,228.8L671.0,227.9L674.0,227.1L677.0,226.2L680.0,225.4L683.0,224.6L686.0,223.8L689.0,223.0L692.0,222.2L695.0,221.5L698.0,220.7L701.0,220.0L704.0,219.3L707.0,218.5L710.0,217.8L713.0,217.1L716.0,216.4L719.0,215.8L722.0,215.1L725.0,214.5L728.0,213.8L731.0,213.2L734.0,212.6L737.0,211.9L740.0,211.3L743.0,210.7L746.0,210.2L749.0,209.6L752.0,209.0L755.0,208.5L758.0,207.9L761.0,207.4L764.0,206.8L767.0,206.3L770.0,205.8L773.0,205.3L776.0,204.8L779.0,204.3L782.0,203.9L785.0,203.4L788.0,202.9L791.0,202.5L794.0,202.0L797.0,201.6L800.0,201.2L803.0,200.7L806.0,200.3L809.0,199.9L812.0,199.5L815.0,199.1L818.0,198.7L821.0,198.3L824.0,198.0L827.0,197.6L830.0,197.2L833.0,196.9L836.0,196.5L839.0,196.2L842.0,195.9L845.0,195.5L848.0,195.2L851.0,194.9L854.0,194.6L857.0,194.3L860.0,194.0L863.0,193.7L866.0,193.4L869.0,193.1L872.0,192.8L875.0,192.6L878.0,192.3L881.0,192.0L884.0,191.8L887.0,191.5L890.0,191.2L893.0,191.0L896.0,190.8L899.0,190.5L902.0,190.3L905.0,190.1L908.0,189.8L911.0,189.6L914.0,189.4L917.0,189.2L920.0,189.0L923.0,188.8L926.0,188.6L929.0,188.4L932.0,188.2L935.0,188.0L938.0,187.8L941.0,187.6L944.0,187.4L947.0,187.2L950.0,187.0L953.0,186.9L956.0,186.7L959.0,186.5L962.0,186.3L965.0,186.2L968.0,186.0L971.0,185.8L974.0,185.7L977.0,185.5L980.0,185.3L983.0,185.2L986.0,185.0L989.0,184.9L992.0,184.7L995.0,184.6L998.0,184.4L1001.0,184.2L1004.0,184.1L1007.0,183.9L1010.0,183.8L1013.0,183.6L1016.0,183.5L1019.0,183.3L1022.0,183.2L1025.0,183.0L1028.0,182.9L1031.0,182.7L1034.0,182.6L1037.0,182.4L1040.0,182.3L1043.0,182.1L1046.0,182.0L1049.0,181.8L1052.0,181.7L1055.0,181.5L1058.0,181.4L1061.0,181.2L1064.0,181.0L1067.0,180.9L1070.0,180.7L1073.0,180.6L1076.0,180.4L1079.0,180.2L1082.0,180.1L1085.0,179.9L1088.0,179.7L1091.0,179.5L1094.0,179.4L1097.0,179.2L1100.0,179.0L1103.0,178.8L1106.0,178.6L1109.0,178.4L1112.0,178.3L1115.0,178.1L1118.0,177.9L1121.0,177.7L1124.0,177.5L1127.0,177.3L1130.0,177.0L1133.0,176.8L1136.0,176.6L1139.0,176.4L1142.0,176.2L1145.0,175.9L1148.0,175.7L1151.0,175.5L1154.0,175.2L1157.0,175.0L1158.0,174.9" stroke="#2563eb" stroke-width="1.6" stroke-dasharray="3 1.6"/>
<path d="M71.0,542.5L74.0,541.0L77.0,539.4L80.0,537.8L83.0,536.2L86.0,534.7L89.0,533.1L92.0,531.5L95.0,530.0L98.0,528.4L101.0,526.8L104.0,525.2L107.0,523.7L110.0,522.1L113.0,520.6L116.0,519.0L119.0,517.4L122.0,515.9L125.0,514.3L128.0,512.7L131.0,511.2L134.0,509.6L137.0,508.1L140.0,506.5L143.0,505.0L146.0,503.4L149.0,501.9L152.0,500.3L155.0,498.8L158.0,497.3L161.0,495.7L164.0,494.2L167.0,492.6L170.0,491.1L173.0,489.6L176.0,488.0L179.0,486.5L182.0,485.0L185.0,483.5L188.0,481.9L191.0,480.4L194.0,478.9L197.0,477.4L200.0,475.9L203.0,474.4L206.0,472.9L209.0,471.4L212.0,469.9L215.0,468.4L218.0,466.9L221.0,465.4L224.0,463.9L227.0,462.4L230.0,460.9L233.0,459.4L236.0,458.0L239.0,456.5L242.0,455.0L245.0,453.5L248.0,452.1L251.0,450.6L254.0,449.2L257.0,447.7L260.0,446.2L263.0,444.8L266.0,443.4L269.0,441.9L272.0,440.5L275.0,439.0L278.0,437.6L281.0,436.2L284.0,434.8L287.0,433.3L290.0,431.9L293.0,430.5L296.0,429.1L299.0,427.7L302.0,426.3L305.0,424.9L308.0,423.5L311.0,422.2L314.0,420.8L317.0,419.4L320.0,418.0L323.0,416.7L326.0,415.3L329.0,413.9L332.0,412.6L335.0,411.2L338.0,409.9L341.0,408.6L344.0,407.2L347.0,405.9L350.0,404.6L353.0,403.2L356.0,401.9L359.0,400.6L362.0,399.3L365.0,398.0L368.0,396.7L371.0,395.4L374.0,394.2L377.0,392.9L380.0,391.6L383.0,390.3L386.0,389.1L389.0,387.8L392.0,386.6L395.0,385.3L398.0,384.1L401.0,382.9L404.0,381.6L407.0,380.4L410.0,379.2L413.0,378.0L416.0,376.8L419.0,375.6L422.0,374.4L425.0,373.2L428.0,372.0L431.0,370.9L434.0,369.7L437.0,368.5L440.0,367.4L443.0,366.2L446.0,365.1L449.0,364.0L452.0,362.8L455.0,361.7L458.0,360.6L461.0,359.5L464.0,358.4L467.0,357.3L470.0,356.2L473.0,355.1L476.0,354.1L479.0,353.0L482.0,351.9L485.0,350.9L488.0,349.8L491.0,348.8L494.0,347.8L497.0,346.7L500.0,345.7L503.0,344.7L506.0,343.7L509.0,342.7L512.0,341.7L515.0,340.8L518.0,339.8L521.0,338.8L524.0,337.9L527.0,336.9L530.0,336.0L533.0,335.1L536.0,334.2L539.0,333.2L542.0,332.3L545.0,331.4L548.0,330.5L551.0,329.7L554.0,328.8L557.0,327.9L560.0,327.1L563.0,326.2L566.0,325.4L569.0,324.6L572.0,323.7L575.0,322.9L578.0,322.1L581.0,321.3L584.0,320.5L587.0,319.7L590.0,319.0L593.0,318.2L596.0,317.5L599.0,316.7L602.0,316.0L605.0,315.3L608.0,314.5L611.0,313.8L614.0,313.1L617.0,312.4L620.0,311.8L623.0,311.1L626.0,310.4L629.0,309.8L632.0,309.1L635.0,308.5L638.0,307.9L641.0,307.2L644.0,306.6L647.0,306.0L650.0,305.4L653.0,304.9L656.0,304.3L659.0,303.7L662.0,303.1L665.0,302.6L668.0,302.0L671.0,301.5L674.0,301.0L677.0,300.5L680.0,299.9L683.0,299.4L686.0,298.9L689.0,298.4L692.0,298.0L695.0,297.5L698.0,297.0L701.0,296.6L704.0,296.1L707.0,295.7L710.0,295.2L713.0,294.8L716.0,294.4L719.0,294.0L722.0,293.6L725.0,293.2L728.0,292.8L731.0,292.4L734.0,292.0L737.0,291.6L740.0,291.3L743.0,290.9L746.0,290.5L749.0,290.2L752.0,289.9L755.0,289.5L758.0,289.2L761.0,288.9L764.0,288.5L767.0,288.2L770.0,287.9L773.0,287.6L776.0,287.3L779.0,287.0L782.0,286.7L785.0,286.5L788.0,286.2L791.0,285.9L794.0,285.6L797.0,285.4L800.0,285.1L803.0,284.9L806.0,284.6L809.0,284.4L812.0,284.1L815.0,283.9L818.0,283.7L821.0,283.4L824.0,283.2L827.0,283.0L830.0,282.8L833.0,282.5L836.0,282.3L839.0,282.1L842.0,281.9L845.0,281.7L848.0,281.5L851.0,281.3L854.0,281.1L857.0,280.9L860.0,280.7L863.0,280.5L866.0,280.3L869.0,280.2L872.0,280.0L875.0,279.8L878.0,279.6L881.0,279.4L884.0,279.3L887.0,279.1L890.0,278.9L893.0,278.8L896.0,278.6L899.0,278.4L902.0,278.3L905.0,278.1L908.0,278.0L911.0,277.8L914.0,277.7L917.0,277.5L920.0,277.4L923.0,277.2L926.0,277.1L929.0,276.9L932.0,276.8L935.0,276.6L938.0,276.5L941.0,276.4L944.0,276.2L947.0,276.1L950.0,276.0L953.0,275.8L956.0,275.7L959.0,275.6L962.0,275.4L965.0,275.3L968.0,275.2L971.0,275.0L974.0,274.9L977.0,274.8L980.0,274.6L983.0,274.5L986.0,274.4L989.0,274.3L992.0,274.1L995.0,274.0L998.0,273.9L1001.0,273.8L1004.0,273.7L1007.0,273.5L1010.0,273.4L1013.0,273.3L1016.0,273.2L1019.0,273.0L1022.0,272.9L1025.0,272.8L1028.0,272.7L1031.0,272.6L1034.0,272.4L1037.0,272.3L1040.0,272.2L1043.0,272.1L1046.0,271.9L1049.0,271.8L1052.0,271.7L1055.0,271.6L1058.0,271.4L1061.0,271.3L1064.0,271.2L1067.0,271.1L1070.0,270.9L1073.0,270.8L1076.0,270.7L1079.0,270.5L1082.0,270.4L1085.0,270.3L1088.0,270.1L1091.0,270.0L1094.0,269.9L1097.0,269.7L1100.0,269.6L1103.0,269.5L1106.0,269.3L1109.0,269.2L1112.0,269.0L1115.0,268.9L1118.0,268.7L1121.0,268.6L1124.0,268.4L1127.0,268.3L1130.0,268.1L1133.0,268.0L1136.0,267.8L1139.0,267.7L1142.0,267.5L1145.0,267.3L1148.0,267.2L1151.0,267.0L1154.0,266.8L1157.0,266.7L1158.0,266.6" stroke="#2563eb" stroke-width="1.6" stroke-dasharray="3 1.6"/>
<path d="M71.0,475.1L74.0,474.0L77.0,473.0L80.0,471.9L83.0,470.8L86.0,469.7L89.0,468.7L92.0,467.6L95.0,466.5L98.0,465.4L101.0,464.3L104.0,463.2L107.0,462.1L110.0,461.0L113.0,459.9L116.0,458.8L119.0,457.7L122.0,456.6L125.0,455.5L128.0,454.4L131.0,453.2L134.0,452.1L137.0,451.0L140.0,449.9L143.0,448.8L146.0,447.6L149.0,446.5L152.0,445.4L155.0,444.3L158.0,443.1L161.0,442.0L164.0,440.9L167.0,439.7L170.0,438.6L173.0,437.5L176.0,436.3L179.0,435.2L182.0,434.1L185.0,432.9L188.0,431.8L191.0,430.6L194.0,429.5L197.0,428.3L200.0,427.2L203.0,426.1L206.0,424.9L209.0,423.8L212.0,422.6L215.0,421.5L218.0,420.3L221.0,419.2L224.0,418.0L227.0,416.9L230.0,415.7L233.0,414.6L236.0,413.4L239.0,412.3L242.0,411.1L245.0,410.0L248.0,408.8L251.0,407.7L254.0,406.5L257.0,405.4L260.0,404.3L263.0,403.1L266.0,402.0L269.0,400.8L272.0,399.7L275.0,398.5L278.0,397.4L281.0,396.2L284.0,395.1L287.0,394.0L290.0,392.8L293.0,391.7L296.0,390.5L299.0,389.4L302.0,388.3L305.0,387.1L308.0,386.0L311.0,384.9L314.0,383.7L317.0,382.6L320.0,381.5L323.0,380.4L326.0,379.2L329.0,378.1L332.0,377.0L335.0,375.9L338.0,374.8L341.0,373.6L344.0,372.5L347.0,371.4L350.0,370.3L353.0,369.2L356.0,368.1L359.0,367.0L362.0,365.9L365.0,364.8L368.0,363.7L371.0,362.6L374.0,361.5L377.0,360.4L380.0,359.3L383.0,358.3L386.0,357.2L389.0,356.1L392.0,355.0L395.0,353.9L398.0,352.9L401.0,351.8L404.0,350.7L407.0,349.7L410.0,348.6L413.0,347.6L416.0,346.5L419.0,345.5L422.0,344.4L425.0,343.4L428.0,342.3L431.0,341.3L434.0,340.3L437.0,339.2L440.0,338.2L443.0,337.2L446.0,336.2L449.0,335.2L452.0,334.1L455.0,333.1L458.0,332.1L461.0,331.1L464.0,330.1L467.0,329.1L470.0,328.1L473.0,327.2L476.0,326.2L479.0,325.2L482.0,324.2L485.0,323.2L488.0,322.3L491.0,321.3L494.0,320.3L497.0,319.3L500.0,318.4L503.0,317.4L506.0,316.5L509.0,315.5L512.0,314.6L515.0,313.6L518.0,312.7L521.0,311.7L524.0,310.8L527.0,309.8L530.0,308.9L533.0,307.9L536.0,307.0L539.0,306.1L542.0,305.1L545.0,304.2L548.0,303.3L551.0,302.4L554.0,301.4L557.0,300.5L560.0,299.6L563.0,298.7L566.0,297.7L569.0,296.8L572.0,295.9L575.0,295.0L578.0,294.1L581.0,293.2L584.0,292.3L587.0,291.4L590.0,290.4L593.0,289.5L596.0,288.6L599.0,287.7L602.0,286.8L605.0,285.9L608.0,285.0L611.0,284.1L614.0,283.2L617.0,282.3L620.0,281.4L623.0,280.6L626.0,279.7L629.0,278.8L632.0,277.9L635.0,277.1L638.0,276.2L641.0,275.3L644.0,274.5L647.0,273.6L650.0,272.8L653.0,271.9L656.0,271.1L659.0,270.3L662.0,269.5L665.0,268.7L668.0,267.8L671.0,267.1L674.0,266.3L677.0,265.5L680.0,264.7L683.0,264.0L686.0,263.2L689.0,262.5L692.0,261.7L695.0,261.0L698.0,260.3L701.0,259.6L704.0,258.9L707.0,258.3L710.0,257.6L713.0,256.9L716.0,256.3L719.0,255.7L722.0,255.0L725.0,254.4L728.0,253.8L731.0,253.2L734.0,252.7L737.0,252.1L740.0,251.5L743.0,251.0L746.0,250.4L749.0,249.9L752.0,249.4L755.0,248.9L758.0,248.4L761.0,247.9L764.0,247.4L767.0,246.9L770.0,246.4L773.0,246.0L776.0,245.5L779.0,245.1L782.0,244.7L785.0,244.2L788.0,243.8L791.0,243.4L794.0,243.0L797.0,242.6L800.0,242.2L803.0,241.8L806.0,241.5L809.0,241.1L812.0,240.7L815.0,240.4L818.0,240.1L821.0,239.7L824.0,239.4L827.0,239.1L830.0,238.7L833.0,238.4L836.0,238.1L839.0,237.8L842.0,237.5L845.0,237.3L848.0,237.0L851.0,236.7L854.0,236.4L857.0,236.2L860.0,235.9L863.0,235.7L866.0,235.4L869.0,235.2L872.0,234.9L875.0,234.7L878.0,234.5L881.0,234.2L884.0,234.0L887.0,233.8L890.0,233.6L893.0,233.4L896.0,233.2L899.0,233.0L902.0,232.8L905.0,232.6L908.0,232.4L911.0,232.2L914.0,232.0L917.0,231.8L920.0,231.6L923.0,231.4L926.0,231.3L929.0,231.1L932.0,230.9L935.0,230.7L938.0,230.6L941.0,230.4L944.0,230.2L947.0,230.1L950.0,229.9L953.0,229.8L956.0,229.6L959.0,229.4L962.0,229.3L965.0,229.1L968.0,229.0L971.0,228.8L974.0,228.6L977.0,228.5L980.0,228.3L983.0,228.2L986.0,228.0L989.0,227.9L992.0,227.7L995.0,227.6L998.0,227.4L1001.0,227.2L1004.0,227.1L1007.0,226.9L1010.0,226.8L1013.0,226.6L1016.0,226.5L1019.0,226.3L1022.0,226.2L1025.0,226.0L1028.0,225.9L1031.0,225.7L1034.0,225.6L1037.0,225.4L1040.0,225.3L1043.0,225.1L1046.0,225.0L1049.0,224.8L1052.0,224.7L1055.0,224.6L1058.0,224.4L1061.0,224.3L1064.0,224.1L1067.0,224.0L1070.0,223.9L1073.0,223.8L1076.0,223.6L1079.0,223.5L1082.0,223.4L1085.0,223.3L1088.0,223.1L1091.0,223.0L1094.0,222.9L1097.0,222.8L1100.0,222.7L1103.0,222.6L1106.0,222.5L1109.0,222.4L1112.0,222.2L1115.0,222.2L1118.0,222.1L1121.0,222.0L1124.0,221.9L1127.0,221.8L1130.0,221.7L1133.0,221.6L1136.0,221.5L1139.0,221.5L1142.0,221.4L1145.0,221.3L1148.0,221.3L1151.0,221.2L1154.0,221.1L1157.0,221.1L1158.0,221.1" stroke="#1764e6" stroke-width="2.2"/>
</g>

<g stroke="#9cafb6" stroke-width="2" fill="none">
<rect x="71" y="156" width="1087" height="385" />
</g>
<rect x="598" y="156" width="484" height="385" fill="url(#gPink)"/>
<rect x="528.5" y="156" width="390.0" height="385" fill="url(#gLav)"/>
<rect x="660.2" y="285" width="1.6" height="256" fill="url(#gPurpLine)"/>
<rect x="738.3" y="156" width="1.4" height="385" fill="url(#gPinkLine)"/>

<g stroke="#96abb2" stroke-width="2"><line x1="71" y1="504.6" x2="78" y2="504.6"/><line x1="71" y1="432.0" x2="78" y2="432.0"/><line x1="71" y1="359.3" x2="78" y2="359.3"/><line x1="71" y1="286.6" x2="78" y2="286.6"/><line x1="71" y1="214.0" x2="78" y2="214.0"/><line x1="71.0" y1="541" x2="71.0" y2="551.5"/><line x1="226.3" y1="541" x2="226.3" y2="551.5"/><line x1="381.6" y1="541" x2="381.6" y2="551.5"/><line x1="536.9" y1="541" x2="536.9" y2="551.5"/><line x1="692.1" y1="541" x2="692.1" y2="551.5"/><line x1="847.4" y1="541" x2="847.4" y2="551.5"/><line x1="1002.7" y1="541" x2="1002.7" y2="551.5"/><line x1="1158.0" y1="541" x2="1158.0" y2="551.5"/></g>

<text x="89.45" y="182.4" textLength="223.70" lengthAdjust="spacingAndGlyphs" style="font-family:Liberation Sans;font-size:18px;fill:#0e0e0e;stroke:#ffffff;stroke-opacity:0.55;stroke-width:2.2px;paint-order:stroke;stroke-linejoin:round">Estimated stock of human-</text>
<text x="89.45" y="204.4" textLength="248.27" lengthAdjust="spacingAndGlyphs" style="font-family:Liberation Sans;font-size:18px;fill:#0e0e0e;stroke:#ffffff;stroke-opacity:0.55;stroke-width:2.2px;paint-order:stroke;stroke-linejoin:round">generated public text; 95% CI</text>
<text x="78.96" y="320.6" textLength="219.79" lengthAdjust="spacingAndGlyphs" style="font-family:Liberation Sans;font-size:18px;fill:#0e0e0e;stroke:#ffffff;stroke-opacity:0.55;stroke-width:2.2px;paint-order:stroke;stroke-linejoin:round">Dataset sizes used to train</text>
<text x="78.98" y="342.1" textLength="181.16" lengthAdjust="spacingAndGlyphs" style="font-family:Liberation Sans;font-size:18px;fill:#0e0e0e;stroke:#ffffff;stroke-opacity:0.55;stroke-width:2.2px;paint-order:stroke;stroke-linejoin:round">notable LLMs; 95% CI</text>
<text x="749.45" y="396.0" textLength="154.40" lengthAdjust="spacingAndGlyphs" style="font-family:Liberation Sans;font-size:18px;fill:#0e0e0e;stroke:#ffffff;stroke-opacity:0.55;stroke-width:2.2px;paint-order:stroke;stroke-linejoin:round">Median date of full</text>
<text x="749.48" y="417.0" textLength="148.32" lengthAdjust="spacingAndGlyphs" style="font-family:Liberation Sans;font-size:18px;fill:#0e0e0e;stroke:#ffffff;stroke-opacity:0.55;stroke-width:2.2px;paint-order:stroke;stroke-linejoin:round">stock use; 80% CI</text>
<text x="479.75" y="484.1" textLength="167.85" lengthAdjust="spacingAndGlyphs" style="font-family:Liberation Sans;font-size:18px;fill:#0e0e0e;stroke:#ffffff;stroke-opacity:0.55;stroke-width:2.2px;paint-order:stroke;stroke-linejoin:round">Median date with 5x</text>
<text x="479.77" y="504.5" textLength="168.36" lengthAdjust="spacingAndGlyphs" style="font-family:Liberation Sans;font-size:18px;fill:#0e0e0e;stroke:#ffffff;stroke-opacity:0.55;stroke-width:2.2px;paint-order:stroke;stroke-linejoin:round">overtraining; 80% CI</text>
<text x="749.78" y="372.0" textLength="51.49" lengthAdjust="spacingAndGlyphs" style="font-family:Liberation Sans;font-size:18px;fill:#de3792;stroke:#ffffff;stroke-opacity:0.45;stroke-width:2px;paint-order:stroke;stroke-linejoin:round">~2028</text>
<text x="597.29" y="456.8" textLength="51.28" lengthAdjust="spacingAndGlyphs" style="font-family:Liberation Sans;font-size:18px;fill:#6a38da;stroke:#ffffff;stroke-opacity:0.45;stroke-width:2px;paint-order:stroke;stroke-linejoin:round">~2027</text>
<text x="98.72" y="482.5" textLength="51.97" lengthAdjust="spacingAndGlyphs" style="font-family:Liberation Sans;font-size:17.5px;fill:#0e0e0e;stroke:#ffffff;stroke-opacity:0.55;stroke-width:2.2px;paint-order:stroke;stroke-linejoin:round">GPT-3</text>
<text x="210.91" y="408.5" textLength="89.66" lengthAdjust="spacingAndGlyphs" style="font-family:Liberation Sans;font-size:17.5px;fill:#0e0e0e;stroke:#ffffff;stroke-opacity:0.55;stroke-width:2.2px;paint-order:stroke;stroke-linejoin:round">FLAN 137B</text>
<text x="264.32" y="445.8" textLength="44.78" lengthAdjust="spacingAndGlyphs" style="font-family:Liberation Sans;font-size:17.5px;fill:#0e0e0e;stroke:#ffffff;stroke-opacity:0.55;stroke-width:2.2px;paint-order:stroke;stroke-linejoin:round">PaLM</text>
<text x="373.57" y="398.0" textLength="102.20" lengthAdjust="spacingAndGlyphs" style="font-family:Liberation Sans;font-size:17.5px;fill:#0e0e0e;stroke:#ffffff;stroke-opacity:0.55;stroke-width:2.2px;paint-order:stroke;stroke-linejoin:round">Falcon-180B</text>
<text x="402.40" y="373.3" textLength="48.52" lengthAdjust="spacingAndGlyphs" style="font-family:Liberation Sans;font-size:17.5px;fill:#0e0e0e;stroke:#ffffff;stroke-opacity:0.55;stroke-width:2.2px;paint-order:stroke;stroke-linejoin:round">DBRX</text>
<text x="411.06" y="335.2" textLength="64.82" lengthAdjust="spacingAndGlyphs" style="font-family:Liberation Sans;font-size:17.5px;fill:#0e0e0e;stroke:#ffffff;stroke-opacity:0.55;stroke-width:2.2px;paint-order:stroke;stroke-linejoin:round">Llama 3</text>
<text x="51.07" y="570.0" textLength="39.96" lengthAdjust="spacingAndGlyphs" style="font-family:Liberation Sans;font-size:17.5px;stroke:#27434e;stroke-width:0.08px;fill:#27434e">2020</text>
<text x="206.33" y="570.0" textLength="41.04" lengthAdjust="spacingAndGlyphs" style="font-family:Liberation Sans;font-size:17.5px;stroke:#27434e;stroke-width:0.08px;fill:#27434e">2022</text>
<text x="361.65" y="570.0" textLength="39.96" lengthAdjust="spacingAndGlyphs" style="font-family:Liberation Sans;font-size:17.5px;stroke:#27434e;stroke-width:0.08px;fill:#27434e">2024</text>
<text x="516.90" y="570.0" textLength="41.04" lengthAdjust="spacingAndGlyphs" style="font-family:Liberation Sans;font-size:17.5px;stroke:#27434e;stroke-width:0.08px;fill:#27434e">2026</text>
<text x="672.19" y="570.0" textLength="41.04" lengthAdjust="spacingAndGlyphs" style="font-family:Liberation Sans;font-size:17.5px;stroke:#27434e;stroke-width:0.08px;fill:#27434e">2028</text>
<text x="827.50" y="570.0" textLength="39.96" lengthAdjust="spacingAndGlyphs" style="font-family:Liberation Sans;font-size:17.5px;stroke:#27434e;stroke-width:0.08px;fill:#27434e">2030</text>
<text x="982.76" y="570.0" textLength="41.04" lengthAdjust="spacingAndGlyphs" style="font-family:Liberation Sans;font-size:17.5px;stroke:#27434e;stroke-width:0.08px;fill:#27434e">2032</text>
<text x="1138.07" y="570.0" textLength="39.96" lengthAdjust="spacingAndGlyphs" style="font-family:Liberation Sans;font-size:17.5px;stroke:#27434e;stroke-width:0.08px;fill:#27434e">2034</text>
<text x="37.42" y="498.7" textLength="17.09" lengthAdjust="spacingAndGlyphs" style="font-family:Liberation Sans;font-size:17.5px;stroke:#27434e;stroke-width:0.12px;fill:#27434e">10</text>
<text x="55.98" y="490.8" textLength="9.31" lengthAdjust="spacingAndGlyphs" style="font-family:Liberation Sans;font-size:12.5px;stroke:#27434e;stroke-width:0.1px;fill:#27434e">11</text>
<text x="35.35" y="426.1" textLength="16.55" lengthAdjust="spacingAndGlyphs" style="font-family:Liberation Sans;font-size:17.5px;stroke:#27434e;stroke-width:0.12px;fill:#27434e">10</text>
<text x="53.94" y="418.2" textLength="11.98" lengthAdjust="spacingAndGlyphs" style="font-family:Liberation Sans;font-size:12.5px;stroke:#27434e;stroke-width:0.1px;fill:#27434e">12</text>
<text x="35.35" y="353.4" textLength="16.55" lengthAdjust="spacingAndGlyphs" style="font-family:Liberation Sans;font-size:17.5px;stroke:#27434e;stroke-width:0.12px;fill:#27434e">10</text>
<text x="53.94" y="345.5" textLength="11.98" lengthAdjust="spacingAndGlyphs" style="font-family:Liberation Sans;font-size:12.5px;stroke:#27434e;stroke-width:0.1px;fill:#27434e">13</text>
<text x="35.35" y="280.8" textLength="16.55" lengthAdjust="spacingAndGlyphs" style="font-family:Liberation Sans;font-size:17.5px;stroke:#27434e;stroke-width:0.12px;fill:#27434e">10</text>
<text x="53.51" y="272.9" textLength="12.41" lengthAdjust="spacingAndGlyphs" style="font-family:Liberation Sans;font-size:12.5px;stroke:#27434e;stroke-width:0.1px;fill:#27434e">14</text>
<text x="35.35" y="208.1" textLength="16.55" lengthAdjust="spacingAndGlyphs" style="font-family:Liberation Sans;font-size:17.5px;stroke:#27434e;stroke-width:0.12px;fill:#27434e">10</text>
<text x="53.51" y="200.2" textLength="12.41" lengthAdjust="spacingAndGlyphs" style="font-family:Liberation Sans;font-size:12.5px;stroke:#27434e;stroke-width:0.1px;fill:#27434e">15</text>
<text x="35.58" y="122.1" textLength="304.61" lengthAdjust="spacingAndGlyphs" style="font-family:Liberation Sans;font-size:18px;stroke:#13222a;stroke-width:0.45px;fill:#13222a">Effective stock (number of tokens)</text>
<text x="1048.76" y="57.8" textLength="86.67" lengthAdjust="spacingAndGlyphs" style="font-family:Liberation Sans;font-size:24.5px;stroke:#0f2f3a;stroke-width:0.9px;fill:#0f2f3a">EPOCH</text>
<text x="1141.80" y="57.8" textLength="24.81" lengthAdjust="spacingAndGlyphs" style="font-family:Liberation Sans;font-size:24.5px;stroke:#0f2f3a;stroke-width:0.9px;fill:#0f2f3a">AI</text>
<text x="35.42" y="63.8" textLength="665.25" lengthAdjust="spacingAndGlyphs" style="font-family:Liberation Serif;font-size:32px;stroke:#101b20;stroke-width:0.35px;fill:#101b20">Projections of the stock of public text and data usage</text>
<text x="596.70" y="601.0" textLength="37.28" lengthAdjust="spacingAndGlyphs" style="font-family:Liberation Sans;font-size:17.5px;stroke:#141e22;stroke-width:0.3px;fill:#141e22">Year</text>
<text x="35.73" y="630.0" textLength="63.30" lengthAdjust="spacingAndGlyphs" style="font-family:Liberation Sans;font-size:21px;fill:#557480">CC-BY</text>
<text x="1081.76" y="629.0" textLength="82.19" lengthAdjust="spacingAndGlyphs" style="font-family:Liberation Sans;font-size:21px;fill:#557480">epoch.ai</text>


<g fill="none" stroke="#1b2b33" stroke-width="1.7">
<path d="M340.6,186.3 C378.6,180.4 425.9,196.8 451.5,226.5"/>
<path d="M306.3,324.9 C324.6,326.6 338.2,340.8 346.5,356"/>
</g>
<g fill="#1b2b33">
<path d="M456.9,232.8 L446.8,229.6 L455.2,222.4 Z"/>
<path d="M349.2,362.6 L341.6,356.9 L350.3,353.3 Z"/>
</g>
</svg>
</body></html>
